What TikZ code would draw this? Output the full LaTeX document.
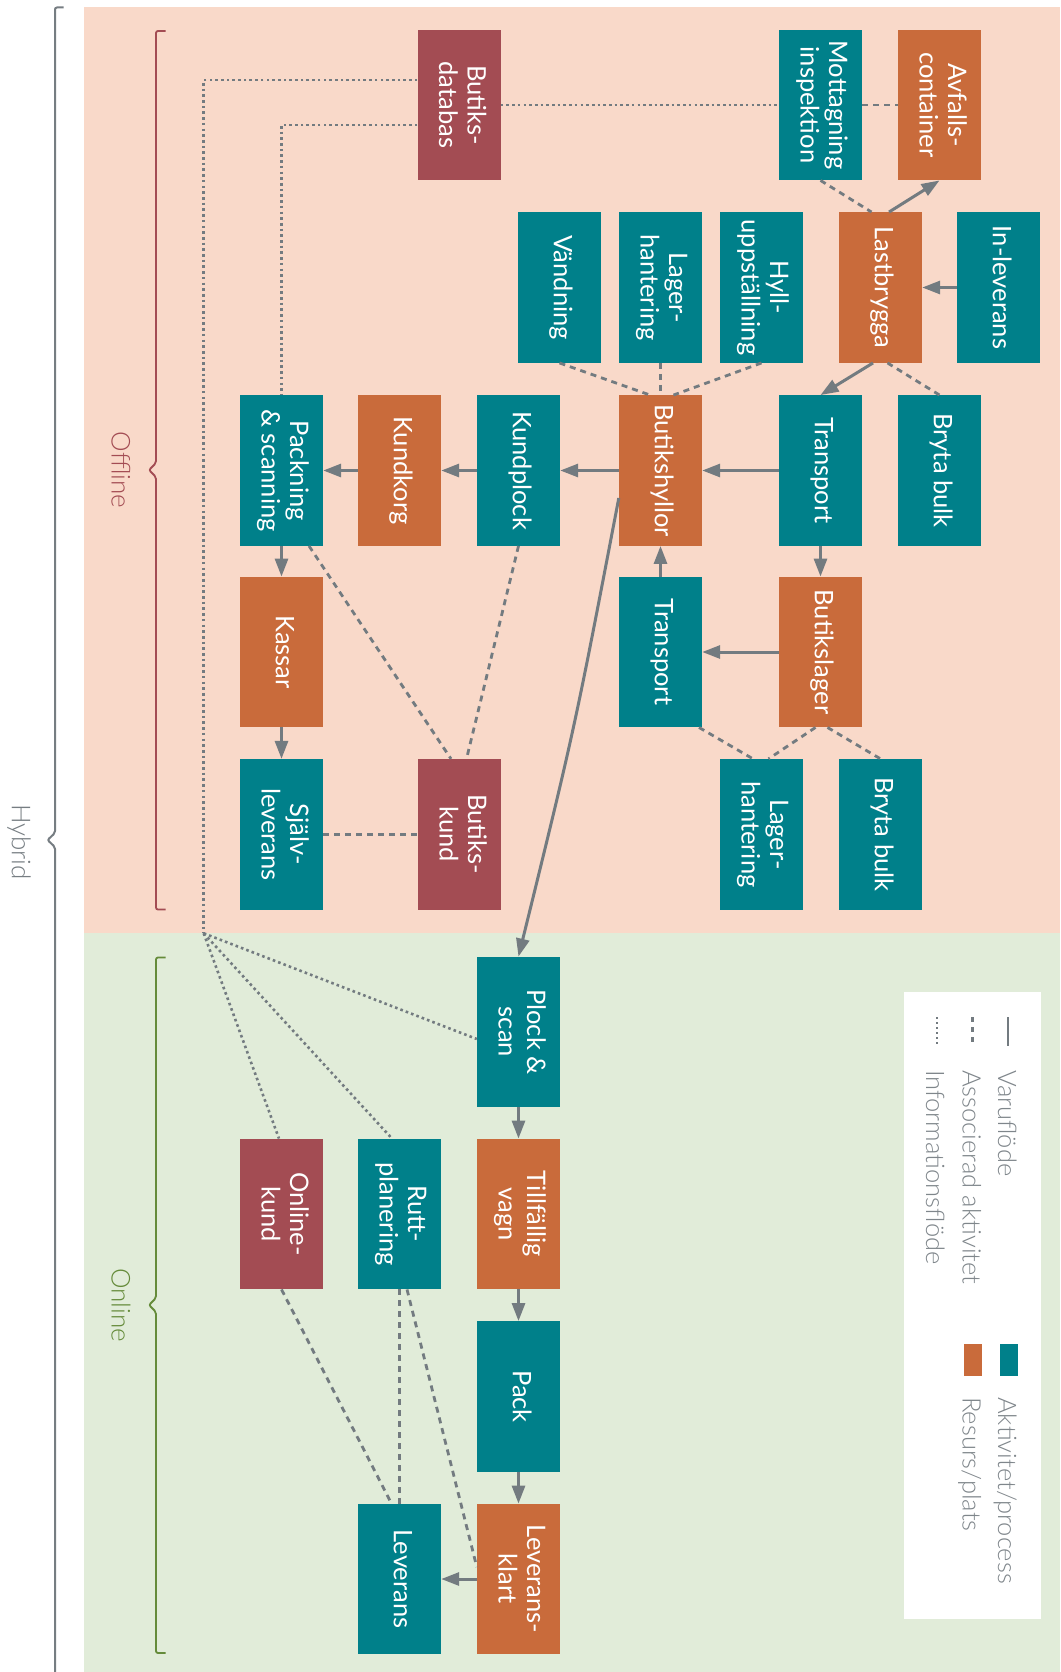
\documentclass[tikz,border=0pt]{standalone}
\usepackage{fontspec}
\usepackage{graphicx}
\setmainfont{Lato}
\newfontfamily\lightfont{Lato Light}
\usetikzlibrary{arrows.meta,calc}

\definecolor{actcol}{HTML}{00808A}
\definecolor{rescol}{HTML}{C96B3B}
\definecolor{custcol}{HTML}{A34C53}
\definecolor{offbg}{HTML}{F9D9C9}
\definecolor{onbg}{HTML}{E1ECD9}
\definecolor{flowcol}{HTML}{737B80}
\definecolor{legcol}{HTML}{7F868B}
\definecolor{hybcol}{HTML}{767D82}
\definecolor{offcol}{HTML}{A34C53}
\definecolor{oncol}{HTML}{658B3A}

% vertical (top-to-bottom) label, centred lines
\newcommand\vlab[1]{\rotatebox[origin=c]{-90}{\begin{tabular}{@{}c@{}}#1\end{tabular}}}

\tikzset{
  box/.style={minimum width=83, minimum height=150.5, inner sep=0, text=white,
    font=\fontsize{25.5}{28.5}\selectfont},
  act/.style={box, fill=actcol},
  res/.style={box, fill=rescol},
  cust/.style={box, fill=custcol},
  flow/.style={draw=flowcol, line width=3, -{Triangle[length=18pt,width=13pt]}},
  assoc/.style={draw=flowcol, line width=2.8, dash pattern=on 6pt off 5pt},
  info/.style={draw=flowcol, line width=2.6, dash pattern=on 2.6pt off 3.1pt},
  legtext/.style={rotate=-90, anchor=base west, inner sep=0, text=legcol,
    font=\lightfont\fontsize{25.5}{28}\selectfont},
  grouplbl/.style={rotate=-90, inner sep=0, font=\lightfont\fontsize{26}{28}\selectfont},
}

\begin{document}
\begin{tikzpicture}[x=1pt, y=-1pt]
\useasboundingbox (0,0) rectangle (1060,1672);

% store (offline) and online areas
\fill[offbg] (84,7) rectangle (1060,933);
\fill[onbg] (84,933) rectangle (1060,1672);

% group braces
\draw[hybcol, line width=2, rounded corners=2] (63.5,7.5) -- (55,7.5) -- (55,833) -- (47.5,840) -- (55,847) -- (55,1680);
\draw[offcol, line width=1.8, rounded corners=2] (165.5,31) -- (156,31) -- (156,463) -- (149,470) -- (156,477) -- (156,909.5) -- (165.5,909.5);
\draw[oncol, line width=1.8, rounded corners=2] (165.5,957.5) -- (156,957.5) -- (156,1298) -- (149,1305) -- (156,1312) -- (156,1653) -- (165.5,1653);

\node[grouplbl, text=hybcol] (hyblbl) at (19,842) {Hybrid};
\node[grouplbl, text=offcol] (offlbl) at (121,470) {Offline};
\node[grouplbl, text=oncol] (onlbl) at (121,1305) {Online};

% activities and resources
\node[cust] (db) at (459,105) {\vlab{Butiks-\\databas}};
\node[act] (mott) at (820.5,105) {\vlab{Mottagning\\inspektion}};
\node[res] (avf) at (939.5,105) {\vlab{Avfalls-\\container}};

\node[act] (vand) at (559.5,287.5) {\vlab{Vändning}};
\node[act] (lag1) at (660.5,287.5) {\vlab{Lager-\\hantering}};
\node[act] (hyll) at (761.5,287.5) {\vlab{Hyll-\\uppställning}};
\node[res] (last) at (880.5,287.5) {\vlab{Lastbrygga}};
\node[act] (inlev) at (998.5,287.5) {\vlab{In-leverans}};

\node[act] (pack1) at (281.5,470.5) {\vlab{Packning\\\& scanning}};
\node[res] (korg) at (399.5,470.5) {\vlab{Kundkorg}};
\node[act] (kplock) at (518.5,470.5) {\vlab{Kundplock}};
\node[res] (hyllor) at (660.5,470.5) {\vlab{Butikshyllor}};
\node[act] (trans1) at (820.5,470.5) {\vlab{Transport}};
\node[act] (bryt1) at (939.5,470.5) {\vlab{Bryta bulk}};

\node[res] (kassar) at (281.5,652) {\vlab{Kassar}};
\node[act] (trans2) at (660.5,652) {\vlab{Transport}};
\node[res] (blager) at (820.5,652) {\vlab{Butikslager}};

\node[act] (sjalv) at (281.5,834.3) {\vlab{Själv-\\leverans}};
\node[cust] (bkund) at (459.5,834.3) {\vlab{Butiks-\\kund}};
\node[act] (lag2) at (761.5,834.3) {\vlab{Lager-\\hantering}};
\node[act] (bryt2) at (880.5,834.3) {\vlab{Bryta bulk}};

\node[act] (plock) at (518.5,1032) {\vlab{Plock \&\\scan}};
\node[cust] (okund) at (281.5,1214) {\vlab{Online-\\kund}};
\node[act] (rutt) at (399.5,1214) {\vlab{Rutt-\\planering}};
\node[res] (vagn) at (518.5,1214) {\vlab{Tillfällig\\vagn}};
\node[act] (pack2) at (518.5,1396.5) {\vlab{Pack}};
\node[act] (lev) at (399.5,1579) {\vlab{Leverans}};
\node[res] (levklar) at (518.5,1579) {\vlab{Leverans-\\klart}};

% flow of goods
\draw[flow] (inlev.west) -- (last.east);
\draw[flow] ($(last.north)+(8.5,0)$) -- (avf.south);
\draw[flow] ($(last.south)+(-7.5,0)$) -- (trans1.north);
\draw[flow] (trans1.west) -- (hyllor.east);
\draw[flow] (hyllor.west) -- (kplock.east);
\draw[flow] (kplock.west) -- (korg.east);
\draw[flow] (korg.west) -- (pack1.east);
\draw[flow] (pack1.south) -- (kassar.north);
\draw[flow] (kassar.south) -- (sjalv.north);
\draw[flow] (trans1.south) -- (blager.north);
\draw[flow] (blager.west) -- (trans2.east);
\draw[flow] (trans2.north) -- (hyllor.south);
\draw[flow] ($(hyllor.west)+(0,27.5)$) .. controls (574.6,728.8) .. (plock.north);
\draw[flow] (plock.south) -- (vagn.north);
\draw[flow] (vagn.south) -- (pack2.north);
\draw[flow] (pack2.south) -- (levklar.north);
\draw[flow] (levklar.west) -- (lev.east);

% associated activities
\draw[assoc] (mott.east) -- (avf.west);
\draw[assoc] (mott.south) -- ($(last.north)+(-9,0)$);
\draw[assoc] ($(last.south)+(7,0)$) -- (bryt1.north);
\draw[assoc] (vand.south) -- ($(hyllor.north)+(-10.5,0)$);
\draw[assoc] (lag1.south) -- (hyllor.north);
\draw[assoc] (hyll.south) -- ($(hyllor.north)+(13,0)$);
\draw[assoc] (kplock.south) -- ($(bkund.north)+(7,0)$);
\draw[assoc] ($(pack1.south)+(27.5,0)$) -- ($(bkund.north)+(-8.5,0)$);
\draw[assoc] (sjalv.east) -- (bkund.west);
\draw[assoc] ($(trans2.south)+(38.5,0)$) -- ($(lag2.north)+(-8.5,0)$);
\draw[assoc] ($(blager.south)+(-5,0)$) -- ($(lag2.north)+(7,0)$);
\draw[assoc] ($(blager.south)+(7,0)$) -- (bryt2.north);
\draw[assoc] (okund.south) -- ($(lev.north)+(-8,0)$);
\draw[assoc] (rutt.south) -- (lev.north);
\draw[assoc] ($(rutt.south)+(7.5,0)$) -- ($(levklar.west)+(0,-12)$);

% information flow
\coordinate (hub) at (203.7,933.3);
\draw[info] (db.east) -- (mott.west);
\draw[info] ($(db.west)+(0,-25)$) -| (hub);
\draw[info] (hub) -- ($(plock.west)+(0,7)$);
\draw[info] (hub) -- ($(rutt.north)+(-7.5,0)$);
\draw[info] (hub) -- ($(okund.north)+(-2.5,0)$);
\draw[info] ($(db.west)+(0,20)$) -| (pack1.north);

% legend
\node[fill=white, minimum width=137, minimum height=627, inner sep=0] (legend) at (972,1305.5) {};
\draw[flowcol, line width=2.5] (1008,1017) -- (1008,1046);
\draw[flowcol, line width=2.5, dash pattern=on 5pt off 5pt] (972.5,1017) -- (972.5,1046);
\draw[info, line width=2.2, dash pattern=on 2pt off 3pt] (937,1017) -- (937,1046);
\node[legtext] (lvf) at (998,1070) {Varuflöde};
\node[legtext] (las) at (962.5,1070) {Associerad aktivitet};
\node[legtext] (lif) at (926,1070) {Informationsflöde};
\node[fill=actcol, minimum width=18.5, minimum height=31.5, inner sep=0] (lsqa) at (1009,1360) {};
\node[fill=rescol, minimum width=18.5, minimum height=31.5, inner sep=0] (lsqr) at (973,1360) {};
\node[legtext] (lap) at (998,1397) {Aktivitet/process};
\node[legtext] (lrp) at (962.5,1397) {Resurs/plats};
\end{tikzpicture}
\end{document}
